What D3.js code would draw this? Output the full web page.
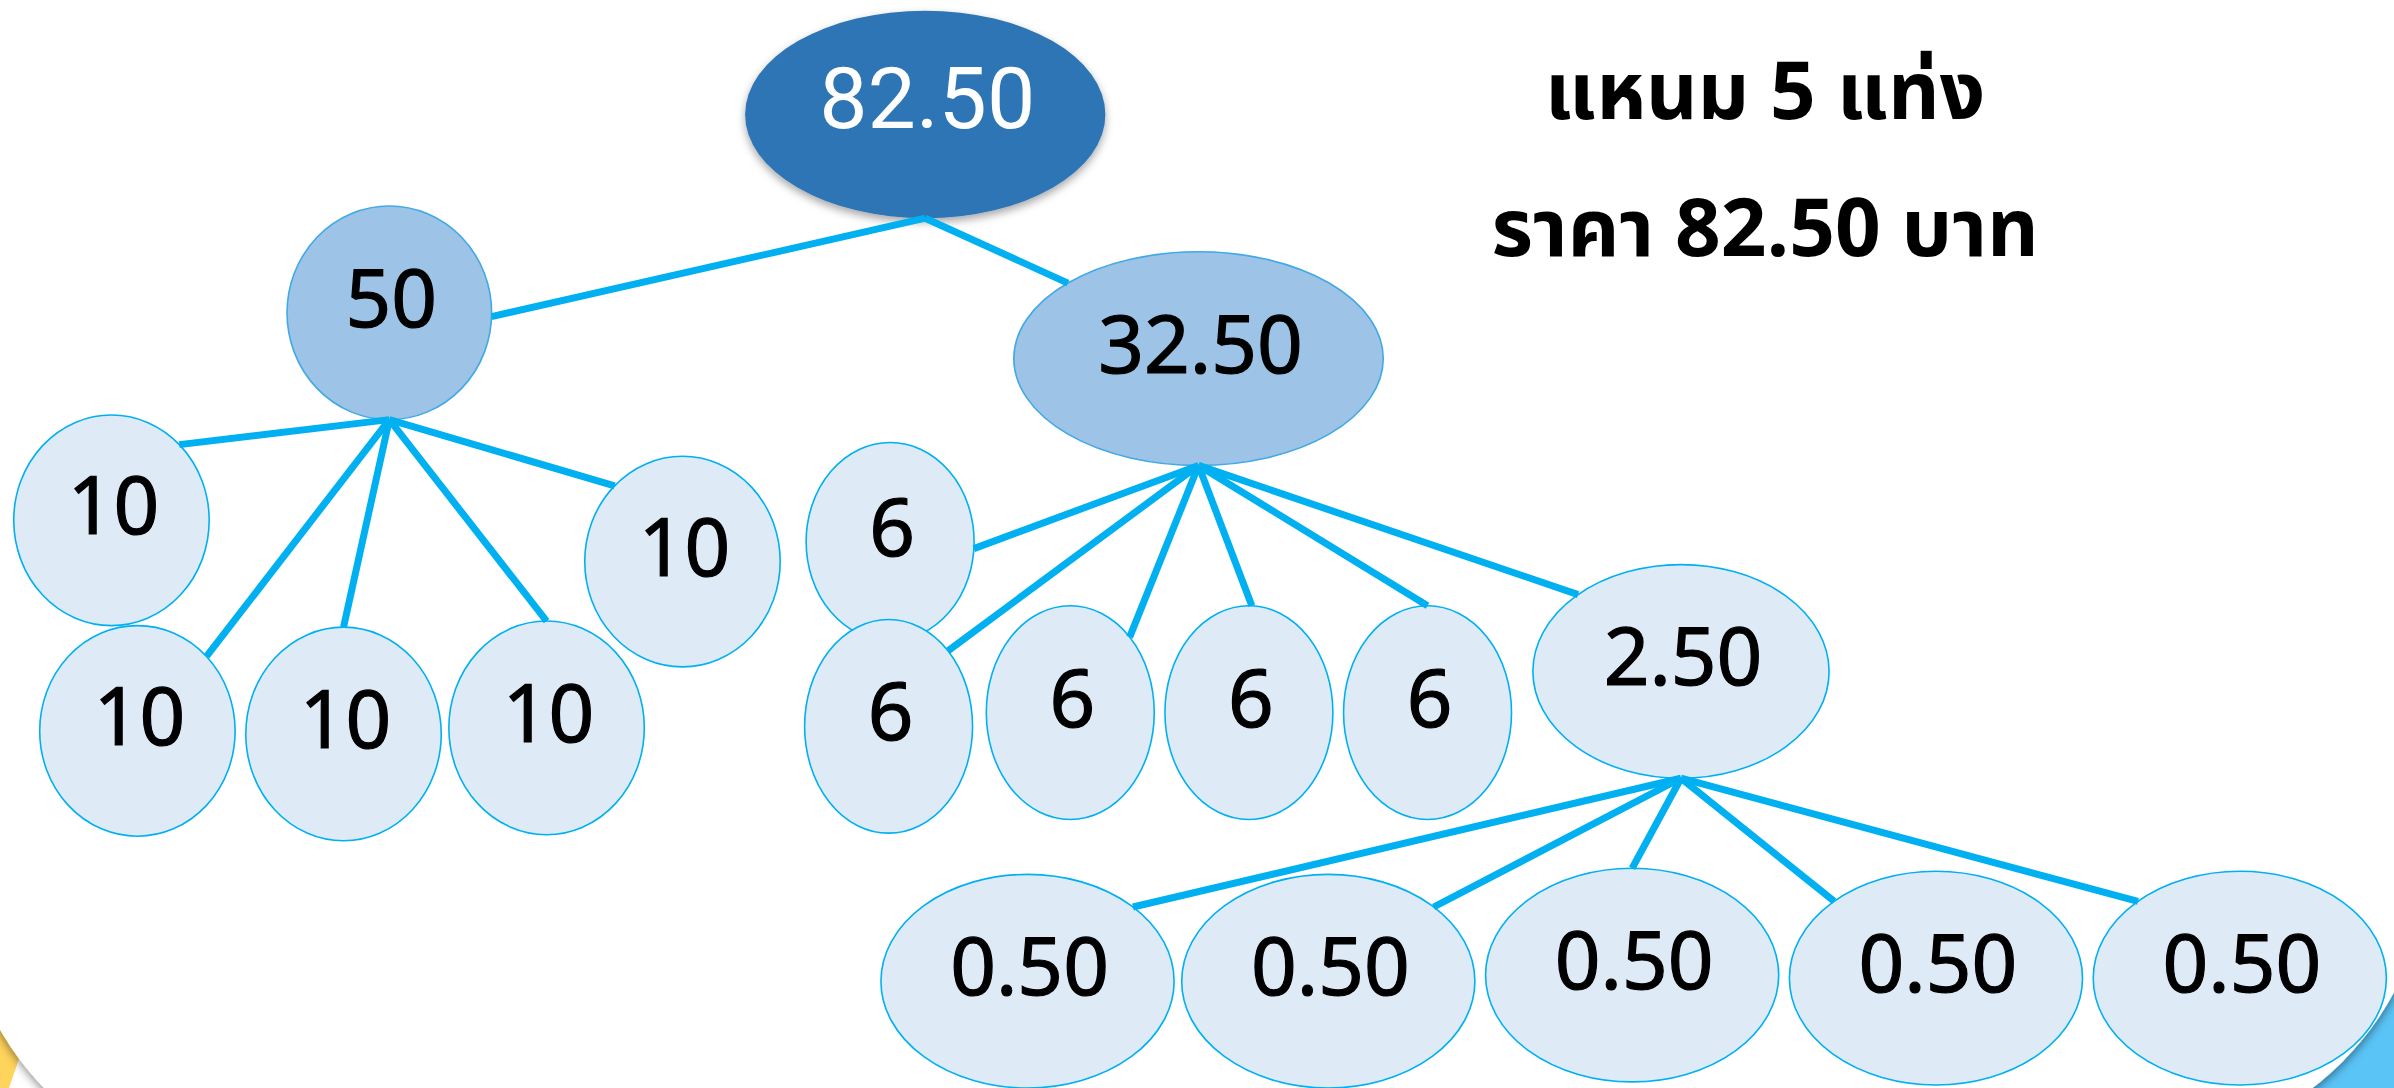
<!DOCTYPE html>
<html>
<head>
<meta charset="utf-8">
<script src="https://cdn.jsdelivr.net/npm/d3@7"></script>
<style>
  html, body { margin: 0; padding: 0; background: #ffffff; }
  svg { display: block; }
</style>
</head>
<body>
<div class="container"></div>
<script>
const WIDTH = 2394;
const HEIGHT = 1088;

// tree values
const labels = ['82.50', '50', '32.50',
    '10', '10', '10', '10', '10',
    '6', '6', '6', '6', '6', '2.50',
    '0.50', '0.50', '0.50', '0.50', '0.50'];
const parents = [-1, 0, 0,
    1, 1, 1, 1, 1,
    2, 2, 2, 2, 2, 2,
    13, 13, 13, 13, 13];
const titleLines = ['แหนม 5 แท่ง', 'ราคา 82.50 บาท'];

// layout (slide units, 1568 x 713)
const nodeX = [606, 255, 785, 73, 90, 225, 358, 447, 583, 582, 701, 818, 935, 1101, 673, 870, 1069, 1268, 1467];
const nodeY = [75, 205, 235, 341, 479, 481, 477, 368, 355, 476, 467, 467, 467, 440, 643, 643, 639, 641, 641];
const nodeRX = [118, 67, 121, 64, 64, 64, 64, 64, 55, 55, 55, 55, 55, 97, 96, 96, 96, 96, 96];
const nodeRY = [68, 70, 70, 69, 69, 70, 70, 69, 65, 70, 70, 70, 70, 70, 70, 70, 70, 70, 70];
// where the connector meets the child ellipse (degrees)
const attachAngle = [0, 2, -135, -46, -45, -90, -90, -134, 4, -45, -45, -88, -90, -134, -44, -44, -90, -134, -134];

const fills = ['#2e75b6', '#9dc3e6', '#deebf7'];

var translate = function(x, y) {
    return `translate(${x},${y})`;
};

var draw = function() {
    var svg = d3.select('.container').append('svg')
        .attr('width', WIDTH)
        .attr('height', HEIGHT);

    let x = d3.scaleLinear().domain([0, 1568]).range([0, WIDTH]);
    let y = d3.scaleLinear().domain([0, 713]).range([0, HEIGHT]);

    var defs = svg.append('defs');
    defs.append('filter').attr('id', 'panelShadow')
        .attr('x', '-10%').attr('y', '-10%').attr('width', '120%').attr('height', '120%')
        .append('feDropShadow')
        .attr('dx', 0).attr('dy', 3).attr('stdDeviation', 5)
        .attr('flood-color', '#000').attr('flood-opacity', 0.45);
    defs.append('filter').attr('id', 'rootShadow')
        .attr('x', '-20%').attr('y', '-20%').attr('width', '140%').attr('height', '150%')
        .append('feDropShadow')
        .attr('dx', 0).attr('dy', 4).attr('stdDeviation', 4)
        .attr('flood-color', '#000').attr('flood-opacity', 0.35);

    // slide background corners
    svg.append('path')
        .attr('d', 'M0,960 L120,1088 L0,1088 Z')
        .attr('fill', '#ffd45c');
    svg.append('path')
        .attr('d', 'M22,1050 L58,1050 L45,1088 L9,1088 Z')
        .attr('fill', '#ffffff');
    svg.append('path')
        .attr('d', 'M2394,930 L2394,1088 L2270,1088 Z')
        .attr('fill', '#5ac4f7');
    svg.append('path')
        .attr('d', 'M-40,-60 H2430 V850 A300,300 0 0 1 2130,1150 L260,1180 A300,300 0 0 1 -40,880 Z')
        .attr('fill', '#ffffff')
        .attr('filter', 'url(#panelShadow)');

    var nodes = labels.map((label, i) => ({
        id: i, label: label, parent: parents[i] < 0 ? null : parents[i]
    }));
    var root = d3.stratify().id(d => d.id).parentId(d => d.parent)(nodes);
    var all = root.descendants().sort((a, b) => a.data.id - b.data.id);

    var pos = function(i, deg) {
        var a = deg * Math.PI / 180;
        return [x(nodeX[i] + nodeRX[i] * Math.cos(a)), y(nodeY[i] + nodeRY[i] * Math.sin(a))];
    };

    var g = svg.append('g');

    // ellipses
    var nodeG = g.selectAll('g.node').data(all).enter()
        .append('g')
        .classed('node', true)
        .attr('transform', d => translate(x(nodeX[d.data.id]), y(nodeY[d.data.id])));

    nodeG.append('ellipse')
        .attr('rx', d => x(nodeRX[d.data.id]) - x(0))
        .attr('ry', d => y(nodeRY[d.data.id]) - y(0))
        .attr('fill', d => fills[Math.min(d.depth, 2)])
        .attr('stroke', d => d.depth === 0 ? 'none' : (d.depth === 1 ? '#41a9e6' : '#00b0f0'))
        .attr('stroke-width', 1.6)
        .attr('filter', d => d.depth === 0 ? 'url(#rootShadow)' : null);

    nodeG.append('text')
        .attr('text-anchor', 'middle')
        .attr('x', 2)
        .attr('y', 14)
        .attr('fill', d => d.depth === 0 ? '#ffffff' : '#000000')
        .attr('stroke', d => d.depth === 0 ? 'none' : '#000000')
        .attr('stroke-width', 1.2)
        .style('font-family', d => d.depth === 0 ? 'Roboto, "Open Sans", sans-serif' : '"Noto Sans", "DejaVu Sans", sans-serif')
        .style('font-size', d => d.depth === 0 ? '86px' : '80px')
        .text(d => d.data.label);

    // connectors
    var links = root.links();
    g.selectAll('line.link').data(links).enter()
        .append('line')
        .classed('link', true)
        .attr('x1', d => pos(d.source.data.id, 90)[0])
        .attr('y1', d => pos(d.source.data.id, 90)[1])
        .attr('x2', d => pos(d.target.data.id, attachAngle[d.target.data.id])[0])
        .attr('y2', d => pos(d.target.data.id, attachAngle[d.target.data.id])[1])
        .attr('stroke', '#00b0f0')
        .attr('stroke-width', 7);

    // title
    svg.append('g').selectAll('text').data(titleLines).enter()
        .append('text')
        .attr('x', 1765)
        .attr('y', (d, i) => 119 + i * 137)
        .attr('text-anchor', 'middle')
        .style('font-family', '"Noto Sans Thai", "Noto Sans", "DejaVu Sans", sans-serif')
        .style('font-weight', 'bold')
        .style('font-size', '80px')
        .text(d => d);
};
window.onload = draw;
</script>
</body>
</html>
